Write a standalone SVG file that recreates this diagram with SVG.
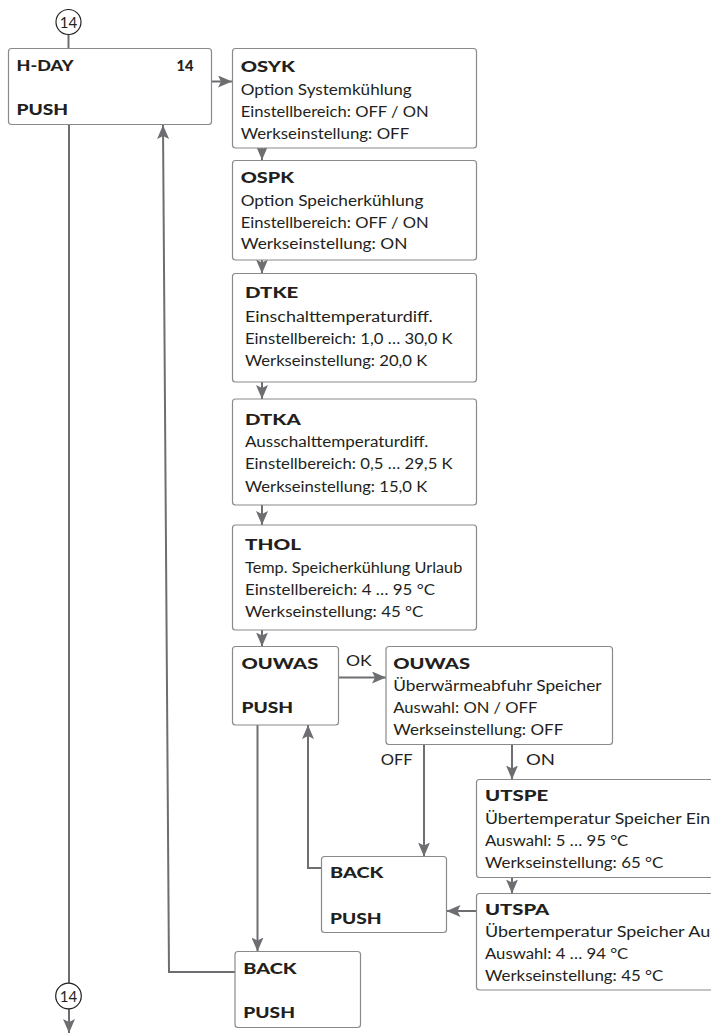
<svg xmlns="http://www.w3.org/2000/svg" width="711" height="1033" viewBox="0 0 711 1033">
<style>
.box{fill:#fff;stroke:#8a8a8a;stroke-width:1.2}
.t{font-family:Lato,"Liberation Sans",sans-serif;font-size:15.5px;fill:#231f20}
.b{font-weight:900;font-size:15px}
.c{fill:none;stroke:#6d6e71;stroke-width:2}
.circ{fill:#fff;stroke:#231f20;stroke-width:1.2}
</style>
<defs>
<marker id="ah" markerWidth="14" markerHeight="12" refX="14" refY="6" orient="auto" markerUnits="userSpaceOnUse">
<path d="M0,0 L14,6 L0,12 L3,6 z" fill="#6d6e71"/>
</marker>
</defs>
<rect width="711" height="1033" fill="#fff"/>

<g id="connectors">
<line class="c" x1="68.5" y1="34.5" x2="68.5" y2="48"/>
<line class="c" x1="69" y1="125" x2="69" y2="983"/>
<line class="c" x1="69" y1="1009" x2="69" y2="1033" marker-end="url(#ah)"/>
<line class="c" x1="212" y1="81.5" x2="232" y2="81.5" marker-end="url(#ah)"/>
<line class="c" x1="262" y1="148" x2="262" y2="160" marker-end="url(#ah)"/>
<line class="c" x1="262" y1="260" x2="262" y2="273.5" marker-end="url(#ah)"/>
<line class="c" x1="262" y1="382" x2="262" y2="399" marker-end="url(#ah)"/>
<line class="c" x1="262" y1="505" x2="262" y2="525" marker-end="url(#ah)"/>
<line class="c" x1="262" y1="630" x2="262" y2="646.5" marker-end="url(#ah)"/>
<line class="c" x1="338.5" y1="677.5" x2="386" y2="677.5" marker-end="url(#ah)"/>
<line class="c" x1="424" y1="744.5" x2="424" y2="856.5" marker-end="url(#ah)"/>
<line class="c" x1="512" y1="744.5" x2="512" y2="779.5" marker-end="url(#ah)"/>
<line class="c" x1="512" y1="877.5" x2="512" y2="893.5" marker-end="url(#ah)"/>
<line class="c" x1="476.5" y1="911" x2="446.5" y2="911" marker-end="url(#ah)"/>
<path class="c" d="M321.5,868 H308 V725" marker-end="url(#ah)"/>
<line class="c" x1="257.5" y1="725" x2="257.5" y2="951.5" marker-end="url(#ah)"/>
<path class="c" d="M235,972 H169 L163,125" marker-end="url(#ah)"/>
</g>

<g id="conn-top">
<circle class="circ" cx="68.5" cy="22" r="12.5"/>
<text class="t" x="68.5" y="27.5" text-anchor="middle" style="font-size:15px">14</text>
</g>
<g id="conn-bottom">
<circle class="circ" cx="68.5" cy="996" r="12.8"/>
<text class="t" x="68.5" y="1001.5" text-anchor="middle" style="font-size:15px">14</text>
</g>

<g id="hday">
<rect class="box" x="8.5" y="48.5" width="203" height="76" rx="3"/>
<text class="t b" x="16.5" y="70.5" textLength="57" lengthAdjust="spacingAndGlyphs">H-DAY</text>
<text class="t b" x="176.5" y="70.5" textLength="17" lengthAdjust="spacingAndGlyphs">14</text>
<text class="t b" x="16.5" y="115" textLength="51.7" lengthAdjust="spacingAndGlyphs">PUSH</text>
</g>

<g id="osyk">
<rect class="box" x="232.5" y="48.5" width="244" height="99.5" rx="3"/>
<text class="t b" x="240.7" y="72" textLength="54.3" lengthAdjust="spacingAndGlyphs">OSYK</text>
<text class="t" x="240.7" y="95" textLength="171" lengthAdjust="spacingAndGlyphs">Option Systemkühlung</text>
<text class="t" x="240.7" y="117" textLength="188" lengthAdjust="spacingAndGlyphs">Einstellbereich: OFF / ON</text>
<text class="t" x="240.7" y="139" textLength="168.5" lengthAdjust="spacingAndGlyphs">Werkseinstellung: OFF</text>
</g>

<g id="ospk">
<rect class="box" x="232.5" y="160.5" width="244" height="99.5" rx="3"/>
<text class="t b" x="240.7" y="183" textLength="53.3" lengthAdjust="spacingAndGlyphs">OSPK</text>
<text class="t" x="240.7" y="205.5" textLength="182.7" lengthAdjust="spacingAndGlyphs">Option Speicherkühlung</text>
<text class="t" x="240.7" y="227.5" textLength="188" lengthAdjust="spacingAndGlyphs">Einstellbereich: OFF / ON</text>
<text class="t" x="240.7" y="249" textLength="166.7" lengthAdjust="spacingAndGlyphs">Werkseinstellung: ON</text>
</g>

<g id="dtke">
<rect class="box" x="232.5" y="273.5" width="244" height="108.5" rx="3"/>
<text class="t b" x="245" y="298.3" textLength="53.3" lengthAdjust="spacingAndGlyphs">DTKE</text>
<text class="t" x="245" y="321.7" textLength="187.7" lengthAdjust="spacingAndGlyphs">Einschalttemperaturdiff.</text>
<text class="t" x="245" y="344" textLength="207.7" lengthAdjust="spacingAndGlyphs">Einstellbereich: 1,0 … 30,0 K</text>
<text class="t" x="245" y="366" textLength="182.3" lengthAdjust="spacingAndGlyphs">Werkseinstellung: 20,0 K</text>
</g>

<g id="dtka">
<rect class="box" x="232.5" y="399" width="244" height="106" rx="3"/>
<text class="t b" x="245" y="425" textLength="55.7" lengthAdjust="spacingAndGlyphs">DTKA</text>
<text class="t" x="245" y="446.7" textLength="183.3" lengthAdjust="spacingAndGlyphs">Ausschalttemperaturdiff.</text>
<text class="t" x="245" y="469" textLength="207.7" lengthAdjust="spacingAndGlyphs">Einstellbereich: 0,5 … 29,5 K</text>
<text class="t" x="245" y="491.7" textLength="182.3" lengthAdjust="spacingAndGlyphs">Werkseinstellung: 15,0 K</text>
</g>

<g id="thol">
<rect class="box" x="232.5" y="525" width="244" height="105" rx="3"/>
<text class="t b" x="245" y="550" textLength="56" lengthAdjust="spacingAndGlyphs">THOL</text>
<text class="t" x="245" y="573.3" textLength="217.3" lengthAdjust="spacingAndGlyphs">Temp. Speicherkühlung Urlaub</text>
<text class="t" x="245" y="594.5" textLength="190" lengthAdjust="spacingAndGlyphs">Einstellbereich: 4 … 95 °C</text>
<text class="t" x="245" y="616.7" textLength="178.3" lengthAdjust="spacingAndGlyphs">Werkseinstellung: 45 °C</text>
</g>

<g id="ouwas-push">
<rect class="box" x="232.5" y="646.5" width="106" height="78.5" rx="3"/>
<text class="t b" x="241.5" y="668.5" textLength="76.7" lengthAdjust="spacingAndGlyphs">OUWAS</text>
<text class="t b" x="241.5" y="712.7" textLength="51.7" lengthAdjust="spacingAndGlyphs">PUSH</text>
</g>

<g id="label-ok">
<text class="t" x="346" y="666" textLength="25.7" lengthAdjust="spacingAndGlyphs">OK</text>
</g>

<g id="ouwas">
<rect class="box" x="386" y="646.5" width="226.5" height="98" rx="3"/>
<text class="t b" x="393.3" y="668.5" textLength="76.7" lengthAdjust="spacingAndGlyphs">OUWAS</text>
<text class="t" x="393.3" y="690.5" textLength="208.3" lengthAdjust="spacingAndGlyphs">Überwärmeabfuhr Speicher</text>
<text class="t" x="393.3" y="712.5" textLength="144" lengthAdjust="spacingAndGlyphs">Auswahl: ON / OFF</text>
<text class="t" x="393.3" y="734.5" textLength="170" lengthAdjust="spacingAndGlyphs">Werkseinstellung: OFF</text>
</g>

<g id="labels-off-on">
<text class="t" x="380.7" y="765" textLength="32" lengthAdjust="spacingAndGlyphs">OFF</text>
<text class="t" x="526" y="765" textLength="29" lengthAdjust="spacingAndGlyphs">ON</text>
</g>

<g id="utspe">
<rect class="box" x="476.5" y="779.5" width="260" height="98" rx="3"/>
<text class="t b" x="485" y="801" textLength="63.3" lengthAdjust="spacingAndGlyphs">UTSPE</text>
<text class="t" x="485" y="823.5" textLength="225" lengthAdjust="spacingAndGlyphs">Übertemperatur Speicher Ein</text>
<text class="t" x="485" y="845.5" textLength="143.3" lengthAdjust="spacingAndGlyphs">Auswahl: 5 … 95 °C</text>
<text class="t" x="485" y="867.5" textLength="178.3" lengthAdjust="spacingAndGlyphs">Werkseinstellung: 65 °C</text>
</g>

<g id="back1">
<rect class="box" x="321.5" y="856.5" width="125" height="76" rx="3"/>
<text class="t b" x="330" y="878.3" textLength="53.3" lengthAdjust="spacingAndGlyphs">BACK</text>
<text class="t b" x="330" y="924" textLength="51.7" lengthAdjust="spacingAndGlyphs">PUSH</text>
</g>

<g id="utspa">
<rect class="box" x="476.5" y="893.5" width="260" height="96.5" rx="3"/>
<text class="t b" x="485" y="915" textLength="64.3" lengthAdjust="spacingAndGlyphs">UTSPA</text>
<text class="t" x="485" y="937" textLength="233" lengthAdjust="spacingAndGlyphs">Übertemperatur Speicher Aus</text>
<text class="t" x="485" y="958.5" textLength="143.3" lengthAdjust="spacingAndGlyphs">Auswahl: 4 … 94 °C</text>
<text class="t" x="485" y="980.5" textLength="178.3" lengthAdjust="spacingAndGlyphs">Werkseinstellung: 45 °C</text>
</g>

<g id="back2">
<rect class="box" x="235" y="951.5" width="125.5" height="76" rx="3"/>
<text class="t b" x="243.3" y="974" textLength="53.3" lengthAdjust="spacingAndGlyphs">BACK</text>
<text class="t b" x="243.3" y="1018.3" textLength="51.7" lengthAdjust="spacingAndGlyphs">PUSH</text>
</g>
</svg>
